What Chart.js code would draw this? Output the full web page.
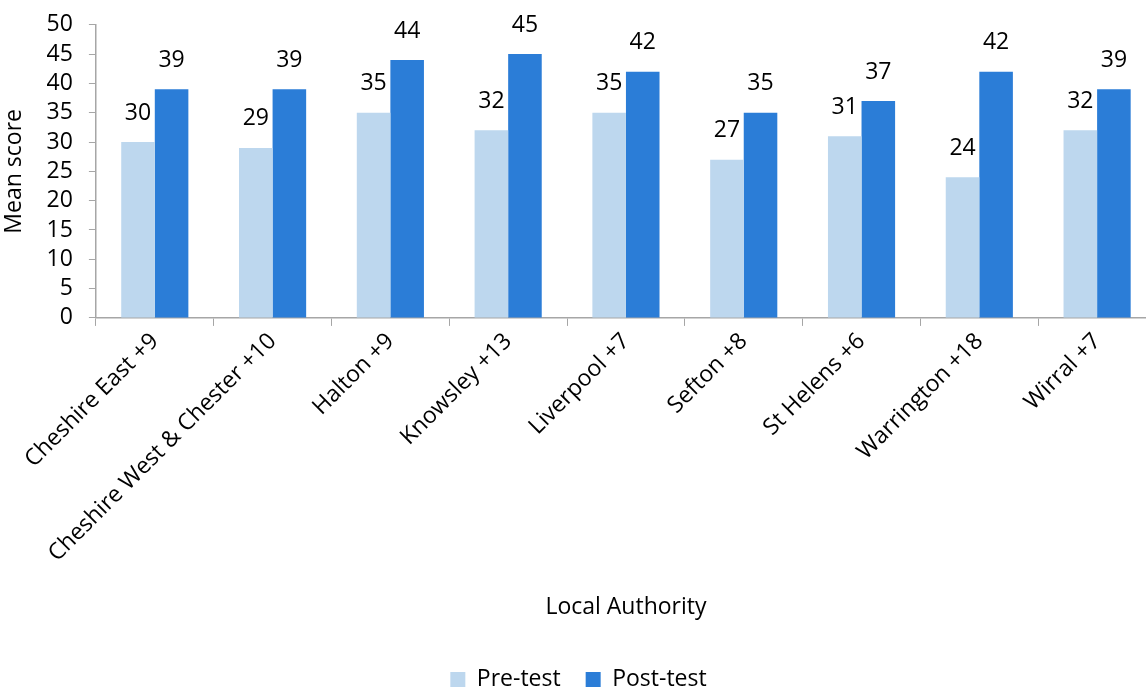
<!DOCTYPE html>
<html>
<head>
<meta charset="utf-8">
<script src="https://cdn.jsdelivr.net/npm/chart.js@4.4.0/dist/chart.umd.min.js"></script>
<style>
  html, body { margin: 0; padding: 0; background: #fff; overflow: hidden; }
  #wrap { width: 1162px; height: 693px; margin-top: -5px; position: relative; }
</style>
</head>
<body>
<div id="wrap"><canvas id="scoreChart"></canvas></div>
<script>
const authorities = ['Cheshire East +9', 'Cheshire West & Chester +10', 'Halton +9', 'Knowsley +13',
  'Liverpool +7', 'Sefton +8', 'St Helens +6', 'Warrington +18', 'Wirral +7'];
const preTest = [30, 29, 35, 32, 35, 27, 31, 24, 32];
const postTest = [39, 39, 44, 45, 42, 35, 37, 42, 39];
const yTicks = [0, 5, 10, 15, 20, 25, 30, 35, 40, 45, 50];

const FONT = '"Open Sans", sans-serif';
const FSIZE = 23;
const axisGrey = '#a6a6a6';

// value labels sitting above each bar
const valueLabels = {
  id: 'valueLabels',
  afterDatasetsDraw(chart) {
    const ctx = chart.ctx;
    ctx.save();
    ctx.font = FSIZE + 'px ' + FONT;
    ctx.fillStyle = '#000';
    ctx.textAlign = 'center';
    ctx.textBaseline = 'middle';
    chart.data.datasets.forEach((ds, i) => {
      chart.getDatasetMeta(i).data.forEach((bar, j) => {
        ctx.fillText(ds.data[j], bar.x, bar.y - 29);
      });
    });
    ctx.restore();
  }
};

new Chart(document.getElementById('scoreChart'), {
  type: 'bar',
  data: {
    labels: authorities,
    datasets: [{
      label: 'Pre-test',
      data: preTest,
      backgroundColor: 'rgb(189, 215, 238)',
      categoryPercentage: 0.57,
      barPercentage: 1.0
    }, {
      label: 'Post-test',
      data: postTest,
      backgroundColor: 'rgb(43, 125, 215)',
      categoryPercentage: 0.57,
      barPercentage: 1.0
    }]
  },
  options: {
    responsive: true,
    maintainAspectRatio: false,
    animation: false,
    layout: { padding: { top: 18, left: 1, right: 6, bottom: -13 } },
    plugins: {
      tooltip: { enabled: false },
      legend: {
        position: 'bottom',
        labels: {
          font: { family: FONT, size: FSIZE },
          color: '#000',
          boxWidth: 15,
          boxHeight: 15,
          padding: 25
        }
      }
    },
    scales: {
      x: {
        border: { color: axisGrey, width: 1.5 },
        grid: { display: true, drawOnChartArea: false, drawTicks: true, tickLength: 8, color: axisGrey, offset: true },
        ticks: {
          font: { family: FONT, size: FSIZE },
          color: '#000',
          maxRotation: 45,
          minRotation: 45,
          padding: 2
        },
        title: {
          display: true,
          text: 'Local Authority',
          font: { family: FONT, size: FSIZE },
          color: '#000',
          padding: { top: 24, bottom: 22 }
        }
      },
      y: {
        min: 0,
        max: 50,
        afterBuildTicks(axis) { axis.ticks = yTicks.map(v => ({ value: v })); },
        border: { color: axisGrey, width: 1.5 },
        grid: { display: true, drawOnChartArea: false, drawTicks: true, tickLength: 7, color: axisGrey },
        ticks: {
          font: { family: FONT, size: FSIZE },
          color: '#000',
          padding: 16,
          autoSkip: false
        },
        title: {
          display: true,
          text: 'Mean score',
          font: { family: FONT, size: FSIZE },
          color: '#000',
          padding: { top: 0, bottom: 2 }
        }
      }
    }
  },
  plugins: [valueLabels]
});
</script>
</body>
</html>
